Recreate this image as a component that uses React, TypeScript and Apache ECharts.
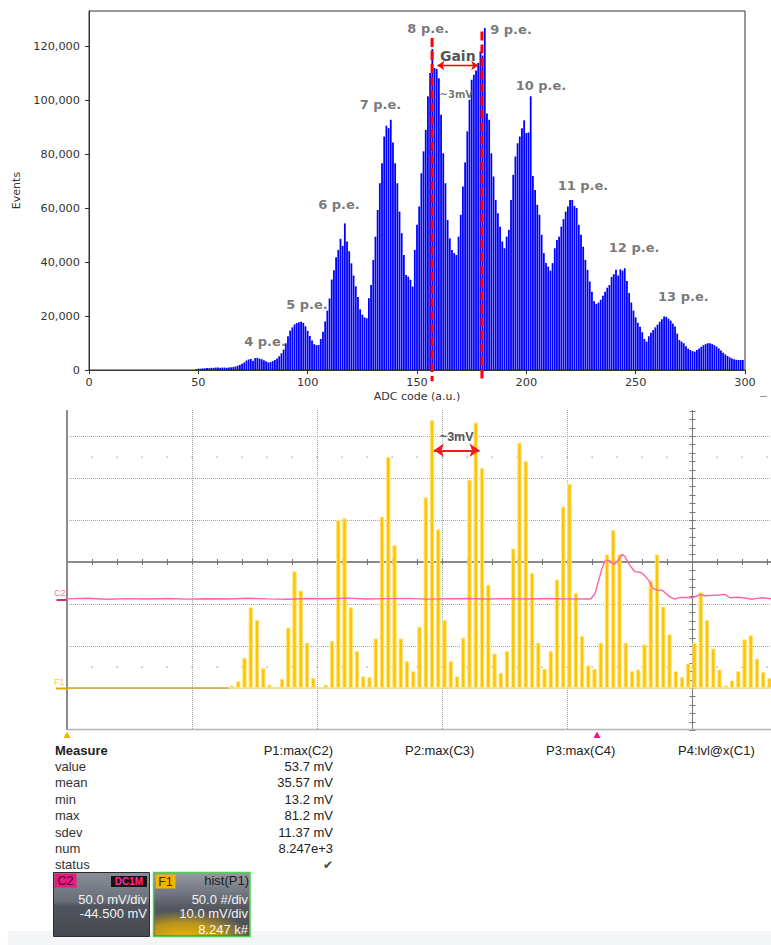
import React, { useEffect, useRef } from 'react';
import * as echarts from 'echarts';

const W = 771;
const H = 945;

// ---------- Upper panel: charge spectrum (events per ADC code) ----------
const ADC_FIRST_CODE = 49;
const adcEvents = [
  300, 500, 500, 600, 600, 700, 700, 800, 800, 900, // 49
  900, 800, 900, 900, 800, 900, 1000, 1100, 1300, 1600, // 59
  1900, 2300, 2800, 3500, 3900, 4100, 3400, 4400, 4500, 4200, // 69
  4000, 3600, 3200, 2800, 2900, 3300, 3700, 4300, 5100, 6200, // 79
  7600, 9900, 12500, 14600, 15800, 16900, 17400, 17700, 17900, 17500, // 89
  16200, 14500, 12600, 10900, 9600, 9200, 9300, 11500, 14200, 18000, // 99
  22000, 26500, 33500, 37000, 41800, 44500, 48600, 46000, 54300, 47600, // 109
  44000, 39500, 35000, 31000, 27000, 22500, 20500, 19500, 19200, 26600, // 119
  31500, 40800, 49400, 59300, 69200, 76600, 86500, 90500, 89600, 92700, // 129
  84300, 76600, 69200, 58700, 50700, 42600, 35200, 34600, 33400, 30900, // 139
  44500, 53800, 60600, 72900, 81000, 89000, 101400, 110000, 118900, 111900, // 149
  111500, 108100, 94600, 80300, 69200, 55600, 48800, 44500, 43300, 42600, // 159
  49400, 57500, 68000, 76900, 88400, 100100, 107500, 109400, 111000, 113700, // 169
  118000, 116500, 126700, 95000, 92700, 80300, 71700, 63000, 58100, 53100, // 179
  47600, 45100, 49400, 51900, 63000, 72300, 79100, 84000, 86500, 89600, // 189
  92500, 87800, 88000, 101400, 71900, 66700, 61200, 57500, 50100, 43300, // 199
  39600, 38300, 36800, 39600, 45100, 48200, 49400, 53100, 55900, 58700, // 209
  60600, 63000, 63000, 60800, 60000, 53800, 50100, 45700, 40800, 37100, // 219
  32800, 29000, 25500, 24500, 25000, 26000, 27500, 29000, 30500, 31500, // 229
  34500, 35500, 37100, 35000, 37300, 36800, 37700, 33000, 28500, 25000, // 239
  22000, 19500, 17500, 16000, 14000, 11500, 10500, 12500, 13800, 14800, // 249
  15800, 16800, 17900, 18800, 19800, 19700, 19000, 18300, 17200, 16100, // 259
  13500, 11100, 10500, 9900, 8800, 7900, 7400, 7000, 6800, 7400, // 269
  8000, 8600, 9200, 9600, 9900, 9900, 9600, 9200, 8700, 8000, // 279
  7200, 6400, 5800, 5200, 4700, 4300, 4000, 3800, 3700, 3700, // 289
  3700, // 299
];
const eventTicks = [0, 20000, 40000, 60000, 80000, 100000, 120000];

const peLabels = ['4 p.e.', '5 p.e.', '6 p.e.', '7 p.e.', '8 p.e.', '9 p.e.', '10 p.e.', '11 p.e.', '12 p.e.', '13 p.e.'];
const peLabelCode = [80.5, 99.7, 114.3, 133.3, 155.1, 193.0, 206.7, 225.9, 249.3, 271.8];
const peLabelEvents = [10400, 24300, 61400, 98200, 126700, 126000, 105300, 68200, 45400, 27400];

const gainLineCodes = [156.9, 179.7];
const gainLineTops = [123000, 125400];
const GAIN_LINE_BOTTOM = -4200;
const gainArrowCodes = [159.3, 178.0];
const GAIN_ARROW_EVENTS = 112800;
const gainNoteCode = 168.0;
const gainNoteEvents = 101900;

// ---------- Lower panel: oscilloscope histogram of P1 ----------
const HIST_START_MV = 13.2;
const HIST_BIN_MV = 0.5;
const histCounts = [
  3, 8, 36, 96, 81, 24, 4, 1, 11, 72,
  139, 116, 54, 12, 1, 4, 56, 200, 202, 96,
  44, 14, 13, 59, 204, 275, 170, 59, 32, 20,
  73, 227, 319, 189, 81, 32, 14, 60, 248, 316,
  262, 123, 41, 18, 44, 166, 292, 270, 137, 54,
  23, 44, 129, 216, 243, 113, 62, 27, 23, 54,
  159, 188, 159, 54, 20, 22, 52, 128, 159, 97,
  64, 20, 13, 29, 54, 114, 81, 47, 22, 3,
  9, 20, 58, 63, 35, 19, 12,
];
const peakArrowMv = [29.35, 33.0];
const PEAK_ARROW_COUNT = 283;

// C2 trace: time in divisions, amplitude in mV
const c2TimeDiv = [
  0, 0.16, 0.32, 0.48, 0.64, 0.8, 0.96, 1.12, 1.28, 1.44, 1.6, 1.76, 1.92, 2.08,
  2.24, 2.4, 2.56, 2.72, 2.88, 3.04, 3.2, 3.36, 3.52, 3.68, 3.84, 4.0, 4.16,
  4.192, 4.224, 4.256, 4.28, 4.304, 4.336, 4.376, 4.408, 4.44, 4.464, 4.488, 4.52,
  4.544, 4.592, 4.624, 4.656, 4.688, 4.72, 4.76, 4.792, 4.824, 4.864, 4.904, 4.952,
  5.0, 5.04, 5.064, 5.104, 5.16, 5.208, 5.264, 5.304, 5.368, 5.424, 5.48, 5.52, 5.56, 5.632,
];
const c2Millivolts = [
  0.6, 1.3, 0.2, 0.9, 0.4, 1.1, 0.3, 0.8, 0.5, 1.4, 0.6, 0.2, 1.0, 0.7,
  1.5, 0.4, 0.9, 1.2, 0.3, 0.8, 1.1, 0.5, 0.9, 0.4, 1.0, 0.6, 0.5,
  0.8, 7, 24, 37, 45.5, 46.5, 41.7, 46, 53.7, 51, 44, 37,
  33, 32, 28, 22, 13, 11, 11, 7, 3, 0.3, 2.4, 2.2,
  2, 4, 6, 4.3, 4.8, 5.2, 6, 2, 2.6, 1.6, 0.2, 1.2, 2, 0.7,
];

const measureNames = ['value', 'mean', 'min', 'max', 'sdev', 'num', 'status'];
const p1Values = ['53.7 mV', '35.57 mV', '13.2 mV', '81.2 mV', '11.37 mV', '8.247e+3', '\u2714'];
const paramNames = ['P1:max(C2)', 'P2:max(C3)', 'P3:max(C4)', 'P4:lvl@x(C1)'];
const c2Info = ['C2', 'DC1M', '50.0 mV/div', '-44.500 mV'];
const f1Info = ['F1', 'hist(P1)', '50.0 #/div', '10.0 mV/div', '8.247 k#'];

// screen scales of the lower panel
const SCOPE_MV_MAX = 56.32;
const SCOPE_COUNT_MIN = -50;
const SCOPE_COUNT_MAX = 330.95;
const C2_DIV_MAX = 5.632;
const C2_MV_MIN = -155.5;
const C2_MV_MAX = 225.5;

const TOP_FONT = 'DejaVu Sans';
const SCOPE_FONT = 'Liberation Sans, Arial, sans-serif';

function renderScopeGrid(_params: any, api: any) {
  const pt = (x: number, y: number) => api.coord([x, y]);
  const crisp = (v: number) => Math.round(v) + 0.5;
  const kids: any[] = [];
  const seg = (x1: number, y1: number, x2: number, y2: number, style: any) =>
    kids.push({ type: 'line', shape: { x1, y1, x2, y2 }, style });
  const left = pt(0, 0)[0];
  const right = pt(SCOPE_MV_MAX, 0)[0];
  const top = pt(0, SCOPE_COUNT_MAX)[1];
  const bottom = pt(0, SCOPE_COUNT_MIN)[1];
  const dotted = { stroke: '#a6a6a6', lineWidth: 1, lineDash: [1, 1] };

  [0, 50, 100, 200, 250, 300].forEach((c) => {
    const y = crisp(pt(0, c)[1]);
    seg(left, y, right, y, dotted);
  });
  [10, 20, 30, 40].forEach((m) => {
    const x = crisp(pt(m, 0)[0]);
    seg(x, top, x, bottom, dotted);
  });
  for (let m = 2; m < SCOPE_MV_MAX; m += 2) {
    [25, 275].forEach((c) => {
      const p = pt(m, c);
      kids.push({ type: 'rect', shape: { x: Math.round(p[0]) - 0.5, y: Math.round(p[1]) - 0.5, width: 1.2, height: 1.2 }, style: { fill: '#8f8f8f' } });
    });
  }
  // centre horizontal axis with ticks
  const cy = Math.round(pt(0, 150)[1]);
  seg(left, cy, right, cy, { stroke: '#8a8a8a', lineWidth: 2 });
  for (let m = 2; m < SCOPE_MV_MAX; m += 2) {
    const x = crisp(pt(m, 0)[0]);
    seg(x, cy - 3, x, cy + 3, { stroke: '#777', lineWidth: 1 });
  }
  // centre vertical axis with ticks
  const cx = crisp(pt(50, 0)[0]);
  seg(cx, top, cx, bottom, { stroke: '#7a7a7a', lineWidth: 1 });
  for (let c = -50; c <= 330; c += 10) {
    const y = crisp(pt(0, c)[1]);
    seg(cx - 3, y, cx + 3, y, { stroke: '#777', lineWidth: 1 });
  }
  // frame: left and bottom
  const lx = Math.round(left);
  seg(lx, top, lx, bottom, { stroke: '#8c8c8c', lineWidth: 2 });
  seg(left, crisp(bottom) - 1, right, crisp(bottom) - 1, { stroke: '#b3b3b3', lineWidth: 1.5 });
  return { type: 'group', children: kids };
}

function renderGainLines(_params: any, api: any) {
  const x = api.value(0);
  const a = api.coord([x, api.value(1)]);
  const b = api.coord([x, GAIN_LINE_BOTTOM]);
  return {
    type: 'line',
    shape: { x1: a[0], y1: a[1], x2: b[0], y2: b[1] },
    style: { stroke: '#ff0000', lineWidth: 3, lineDash: [9, 4] },
  };
}

function txt(text: string, x: number, y: number, opts: any = {}) {
  const align = opts.align || 'left';
  return {
    type: 'text',
    z: 100,
    x,
    y,
    style: {
      text,
      fontSize: opts.size || 13,
      fontWeight: opts.weight || 'normal',
      fontFamily: opts.family || SCOPE_FONT,
      fill: opts.fill || '#222',
      align,
      textAlign: align,
      verticalAlign: 'middle',
      textVerticalAlign: 'middle',
    },
  };
}

function rect(x: number, y: number, w: number, h: number, style: any) {
  return { type: 'rect', z: 99, shape: { x, y, width: w, height: h }, style };
}

function buildGraphics() {
  const g: any[] = [];
  // small dash at the right edge
  g.push({ type: 'line', z: 100, shape: { x1: 760, y1: 396.5, x2: 767, y2: 396.5 }, style: { stroke: '#999', lineWidth: 1 } });
  // channel markers on the scope's left edge
  g.push(txt('C2', 54, 593, { size: 9, fill: '#ff6fb0' }));
  g.push({ type: 'line', z: 100, shape: { x1: 56.5, y1: 600, x2: 66.5, y2: 600 }, style: { stroke: '#e0207a', lineWidth: 2 } });
  g.push(txt('F1', 54, 682, { size: 9, fill: '#ffc82e' }));
  g.push({ type: 'line', z: 100, shape: { x1: 56, y1: 688.5, x2: 67, y2: 688.5 }, style: { stroke: '#e0aa00', lineWidth: 2 } });
  // trigger / position markers under the screen
  g.push({ type: 'polygon', z: 100, shape: { points: [[63.5, 738], [67, 731.5], [70.5, 738]] }, style: { fill: '#f0b400' } });
  g.push({ type: 'polygon', z: 100, shape: { points: [[593.5, 738], [597, 731.5], [600.5, 738]] }, style: { fill: '#e8197f' } });

  // measurement table
  g.push(txt('Measure', 55, 750, { weight: 'bold' }));
  measureNames.forEach((n, i) => g.push(txt(n, 55, 766.4 + 16.4 * i, { fill: '#333' })));
  g.push(txt(paramNames[0], 333, 750, { align: 'right' }));
  p1Values.forEach((v, i) => {
    const isCheck = i === p1Values.length - 1;
    g.push(txt(v, 333, 766.4 + 16.4 * i, isCheck ? { align: 'right', family: 'DejaVu Sans', size: 12, fill: '#444' } : { align: 'right' }));
  });
  g.push(txt(paramNames[1], 405, 750));
  g.push(txt(paramNames[2], 546, 750));
  g.push(txt(paramNames[3], 678, 750));

  // bottom strip
  g.push({ type: 'rect', z: 98, shape: { x: 8, y: 931, width: 763, height: 14 }, style: { fill: '#f4f5f9' } });

  // C2 descriptor box
  const grayGrad = new echarts.graphic.LinearGradient(0, 0, 0, 1, [
    { offset: 0, color: '#8a8e98' },
    { offset: 0.45, color: '#686d78' },
    { offset: 0.52, color: '#51555e' },
    { offset: 1, color: '#46494f' },
  ]);
  g.push(rect(53.5, 872.5, 96, 64, { fill: grayGrad, stroke: '#2b2b2b', lineWidth: 1 }));
  g.push(rect(54.5, 873.5, 22, 14, { fill: '#e8197f' }));
  g.push(txt(c2Info[0], 65.5, 881, { size: 12.5, fill: '#4d0026', align: 'center' }));
  g.push(rect(111, 876, 36, 11, { fill: '#141414' }));
  g.push(txt(c2Info[1], 129, 881.5, { size: 10, weight: 'bold', fill: '#ff2a95', align: 'center' }));
  g.push(txt(c2Info[2], 147, 899, { align: 'right', fill: '#f2f2f2' }));
  g.push(txt(c2Info[3], 147, 913.5, { align: 'right', fill: '#f2f2f2' }));

  // F1 descriptor box
  const grayGrad2 = new echarts.graphic.LinearGradient(0, 0, 0, 1, [
    { offset: 0, color: '#979aa3' },
    { offset: 0.35, color: '#6f737d' },
    { offset: 0.55, color: '#555861' },
    { offset: 1, color: '#4a4c52' },
  ]);
  g.push(rect(153.5, 872.5, 96.5, 64, { fill: grayGrad2, stroke: '#4cd44c', lineWidth: 1.5 }));
  const glow = new echarts.graphic.RadialGradient(0.3, 1.05, 0.75, [
    { offset: 0, color: 'rgba(236,182,0,1)' },
    { offset: 0.55, color: 'rgba(220,170,10,0.75)' },
    { offset: 1, color: 'rgba(200,160,20,0)' },
  ]);
  g.push(rect(154.5, 900, 94.5, 35.5, { fill: glow }));
  g.push(rect(155.5, 874.5, 20, 14, { fill: '#f5b400' }));
  g.push(txt(f1Info[0], 165.5, 881.5, { size: 12.5, fill: '#3a2a00', align: 'center' }));
  g.push(txt(f1Info[1], 249, 880, { align: 'right', fill: '#1a1a1a' }));
  g.push(txt(f1Info[2], 248, 899, { align: 'right', fill: '#f2f2f2' }));
  g.push(txt(f1Info[3], 248, 913.5, { align: 'right', fill: '#f2f2f2' }));
  g.push(txt(f1Info[4], 248, 929.5, { align: 'right', fill: '#fafafa' }));
  return g;
}

function buildOption(): any {
  const axisTextTop = { fontFamily: TOP_FONT, fontSize: 11.3, color: '#333' };
  return {
    animation: false,
    backgroundColor: '#ffffff',
    grid: [
      { left: 89, top: 11, width: 656, height: 359, show: true, borderColor: '#333', borderWidth: 1, backgroundColor: 'transparent', containLabel: false, outerBoundsMode: 'none' },
      { left: 67, top: 410, width: 704, height: 320, show: false, containLabel: false, outerBoundsMode: 'none' },
    ],
    xAxis: [
      {
        gridIndex: 0, type: 'value', min: 0, max: 300, interval: 50,
        axisLine: { show: true, onZero: false, lineStyle: { color: '#333', width: 1 } },
        axisTick: { show: true, length: 4, lineStyle: { color: '#333' } },
        axisLabel: { ...axisTextTop, margin: 7 },
        splitLine: { show: false },
        name: 'ADC code (a.u.)', nameLocation: 'middle', nameGap: 21,
        nameTextStyle: { fontFamily: TOP_FONT, fontSize: 11, color: '#333' },
      },
      { gridIndex: 1, type: 'value', min: 0, max: SCOPE_MV_MAX, show: false },
      { gridIndex: 1, type: 'value', min: 0, max: C2_DIV_MAX, show: false },
    ],
    yAxis: [
      {
        gridIndex: 0, type: 'value', min: 0, max: 133000, interval: 20000,
        axisLine: { show: true, onZero: false, lineStyle: { color: '#333', width: 1 } },
        axisTick: { show: true, length: 4, lineStyle: { color: '#333' }, customValues: eventTicks },
        axisLabel: {
          ...axisTextTop, margin: 9, customValues: eventTicks,
          formatter: (v: number) => v.toLocaleString('en-US'),
        },
        splitLine: { show: false },
        name: 'Events', nameLocation: 'middle', nameGap: 62, nameRotate: 90,
        nameTextStyle: { fontFamily: TOP_FONT, fontSize: 11, color: '#333' },
      },
      { gridIndex: 1, type: 'value', min: SCOPE_COUNT_MIN, max: SCOPE_COUNT_MAX, show: false },
      { gridIndex: 1, type: 'value', min: C2_MV_MIN, max: C2_MV_MAX, show: false },
    ],
    series: [
      // upper histogram
      {
        type: 'bar', name: 'Events', xAxisIndex: 0, yAxisIndex: 0, z: 2,
        barWidth: 1.8,
        itemStyle: { color: '#0000ff' },
        data: adcEvents.map((v, i) => [ADC_FIRST_CODE + i, v]),
        markLine: {
          silent: true, symbol: ['arrow', 'arrow'], symbolSize: 7,
          lineStyle: { color: '#ff0000', width: 1.3, type: 'solid' },
          label: { show: true, position: 'middle', formatter: 'Gain', color: '#555', fontSize: 14, fontWeight: 'bold', fontFamily: TOP_FONT, distance: 3 },
          data: [[{ coord: [gainArrowCodes[0], GAIN_ARROW_EVENTS] }, { coord: [gainArrowCodes[1], GAIN_ARROW_EVENTS] }]],
        },
      },
      {
        type: 'custom', xAxisIndex: 0, yAxisIndex: 0, z: 5, silent: true, clip: false,
        data: gainLineCodes.map((c, i) => [c, gainLineTops[i]]),
        renderItem: renderGainLines,
      },
      {
        type: 'scatter', xAxisIndex: 0, yAxisIndex: 0, z: 6, silent: true,
        symbolSize: 2, itemStyle: { color: 'rgba(255,255,255,0)' },
        labelLayout: { hideOverlap: false },
        label: { show: true, position: 'inside', formatter: '{b}', color: '#555', fontSize: 13, fontWeight: 'bold', fontFamily: TOP_FONT },
        data: [
          ...peLabels.map((t, i) => ({ name: t, value: [peLabelCode[i], peLabelEvents[i]] })),
          { name: '~3mV', value: [gainNoteCode, gainNoteEvents], label: { fontSize: 10 } },
        ],
      },
      // lower panel: screen graticule
      {
        type: 'custom', xAxisIndex: 1, yAxisIndex: 1, z: 1, silent: true, clip: false,
        data: [[0, 0]],
        renderItem: renderScopeGrid,
      },
      // F1 baseline
      {
        type: 'line', xAxisIndex: 1, yAxisIndex: 1, z: 2, symbol: 'none', silent: true,
        lineStyle: { color: '#c8a038', width: 1.6 },
        data: [[0, 0], [HIST_START_MV - 0.25, 0]],
      },
      {
        type: 'line', xAxisIndex: 1, yAxisIndex: 1, z: 2, symbol: 'none', silent: true,
        lineStyle: { color: '#f4df7c', width: 1.3 },
        data: [[HIST_START_MV - 0.25, 0], [SCOPE_MV_MAX, 0]],
      },
      // F1 = hist(P1)
      {
        type: 'bar', name: 'hist(P1)', xAxisIndex: 1, yAxisIndex: 1, z: 3,
        barWidth: 4.4,
        itemStyle: { color: '#ffc400', borderColor: '#ffe47e', borderWidth: 1 },
        data: histCounts.map((v, k) => [HIST_START_MV + k * HIST_BIN_MV, v]),
        markLine: {
          silent: true, symbol: ['arrow', 'arrow'], symbolSize: 10,
          lineStyle: { color: '#ee1c1c', width: 2, type: 'solid' },
          label: { show: true, position: 'middle', formatter: '~3mV', color: '#555', fontSize: 12.5, fontWeight: 'bold', fontFamily: SCOPE_FONT, distance: 7 },
          data: [[{ coord: [peakArrowMv[0], PEAK_ARROW_COUNT] }, { coord: [peakArrowMv[1], PEAK_ARROW_COUNT] }]],
        },
      },
      // C2 trace
      {
        type: 'line', name: 'C2', xAxisIndex: 2, yAxisIndex: 2, z: 4, symbol: 'none', silent: true,
        lineStyle: { color: '#ff63a8', width: 1.4 },
        data: c2TimeDiv.map((t, i) => [t, c2Millivolts[i]]),
      },
    ],
    graphic: { elements: buildGraphics() },
  };
}

export default function App() {
  const ref = useRef<HTMLDivElement>(null);
  useEffect(() => {
    if (!ref.current) return;
    const chart = echarts.init(ref.current, undefined, { renderer: 'svg' });
    chart.setOption(buildOption());
    return () => chart.dispose();
  }, []);
  return (
    <div
      ref={ref}
      style={{ position: 'absolute', left: 0, top: 0, width: W, height: H, background: '#ffffff' }}
    />
  );
}
